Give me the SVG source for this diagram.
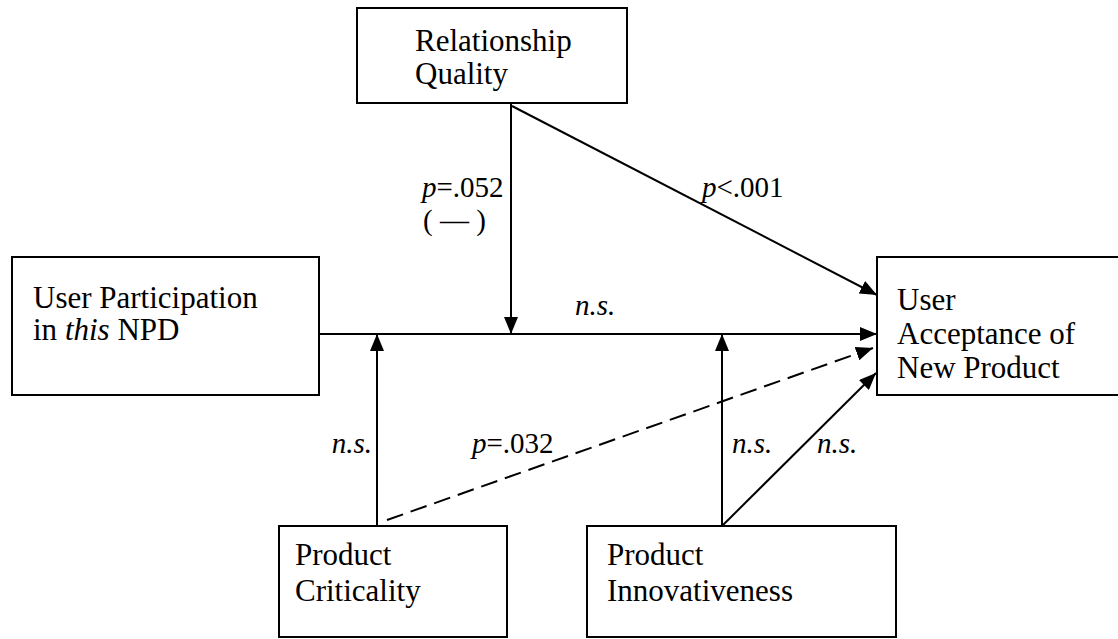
<svg xmlns="http://www.w3.org/2000/svg" width="1118" height="639" viewBox="0 0 1118 639">
<style>
.box{fill:#fff;stroke:#000;stroke-width:2}
.t{font-family:"Liberation Serif","Times New Roman",serif;font-size:31px;fill:#000}
.l{font-family:"Liberation Serif","Times New Roman",serif;font-size:29px;fill:#000}
.i{font-style:italic}
.c{stroke:#000;stroke-width:2;fill:none}
.d{stroke-dasharray:17 8}
</style>
<defs>
<marker id="ah" markerUnits="userSpaceOnUse" markerWidth="18" markerHeight="14" refX="17" refY="7" orient="auto">
<path d="M0,0 L17,7 L0,14 Z" fill="#000"/>
</marker>
</defs>
<rect width="1118" height="639" fill="#fff"/>
<g id="connectors">
<line class="c" x1="319" y1="334" x2="877" y2="334" marker-end="url(#ah)"/>
<line class="c" x1="511" y1="103" x2="511" y2="334" marker-end="url(#ah)"/>
<line class="c" x1="512" y1="106" x2="877" y2="295" marker-end="url(#ah)"/>
<line class="c" x1="377" y1="526" x2="377" y2="334" marker-end="url(#ah)"/>
<line class="c" x1="722" y1="526" x2="722" y2="334" marker-end="url(#ah)"/>
<line class="c d" x1="387" y1="520" x2="873" y2="348" marker-end="url(#ah)"/>
<line class="c" x1="722" y1="526" x2="876" y2="373" marker-end="url(#ah)"/>
</g>
<g id="labels">
<text class="l" x="422" y="197"><tspan class="i">p</tspan>=.052</text>
<text class="l" x="423" y="230">( — )</text>
<text class="l" x="702" y="197"><tspan class="i">p</tspan>&lt;.001</text>
<text class="l i" x="575" y="315">n.s.</text>
<text class="l i" x="372" y="453" text-anchor="end">n.s.</text>
<text class="l" x="472" y="453"><tspan class="i">p</tspan>=.032</text>
<text class="l i" x="732" y="453">n.s.</text>
<text class="l i" x="817" y="453">n.s.</text>
</g>
<g id="relationship-quality">
<rect class="box" x="357" y="8" width="270" height="95"/>
<text class="t" x="415" y="51">Relationship</text>
<text class="t" x="415" y="84">Quality</text>
</g>
<g id="user-participation">
<rect class="box" x="12" y="257" width="307" height="138"/>
<text class="t" x="33" y="308">User Participation</text>
<text class="t" x="33" y="340">in <tspan class="i">this</tspan> NPD</text>
</g>
<g id="user-acceptance">
<rect class="box" x="877" y="257" width="250" height="138"/>
<text class="t" x="897" y="310">User</text>
<text class="t" x="897" y="344">Acceptance of</text>
<text class="t" x="897" y="378">New Product</text>
</g>
<g id="product-criticality">
<rect class="box" x="279" y="526" width="228" height="111"/>
<text class="t" x="295" y="565">Product</text>
<text class="t" x="295" y="601">Criticality</text>
</g>
<g id="product-innovativeness">
<rect class="box" x="587" y="526" width="309" height="111"/>
<text class="t" x="607" y="565">Product</text>
<text class="t" x="607" y="601">Innovativeness</text>
</g>
</svg>
